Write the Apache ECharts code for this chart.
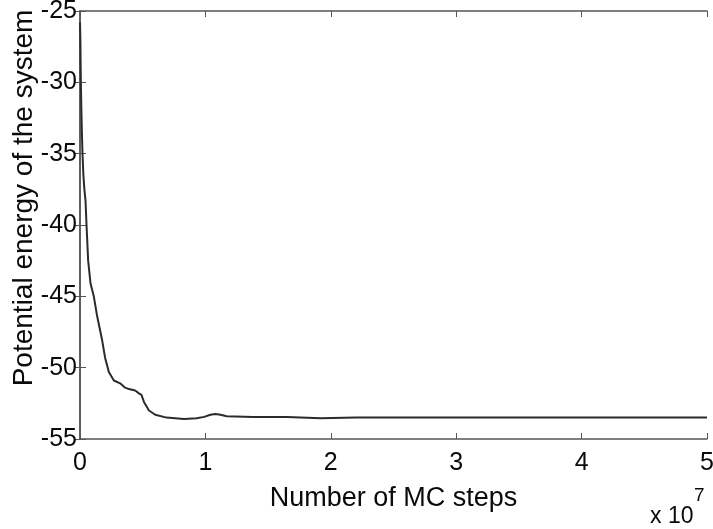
<!DOCTYPE html>
<html>
<head>
<meta charset="utf-8">
<script src="https://cdn.jsdelivr.net/npm/echarts@6/dist/echarts.min.js"></script>
<style>
  html, body { margin: 0; padding: 0; background: #fff; }
  #chart { width: 713px; height: 529px; }
</style>
</head>
<body>
<div id="chart"></div>
<script>
// MC steps in units of 1e7
const steps = [0, 0.003, 0.006, 0.01, 0.015, 0.02, 0.027, 0.035, 0.044, 0.052, 0.065, 0.084, 0.11, 0.137, 0.177, 0.2, 0.23, 0.27, 0.32, 0.36, 0.39, 0.44, 0.47, 0.49, 0.51, 0.55, 0.6, 0.69, 0.83, 0.93, 0.99, 1.04, 1.08, 1.12, 1.17, 1.38, 1.65, 1.92, 2.2, 2.5, 3, 3.5, 4, 4.5, 5]
const energy = [-25.8, -27, -29.5, -31.5, -33.5, -35, -36.5, -37.5, -38.3, -40, -42.5, -44.1, -45, -46.4, -48.1, -49.3, -50.3, -50.9, -51.1, -51.4, -51.5, -51.6, -51.8, -51.9, -52.4, -53.0, -53.3, -53.5, -53.6, -53.55, -53.45, -53.3, -53.25, -53.3, -53.4, -53.45, -53.45, -53.55, -53.5, -53.5, -53.5, -53.5, -53.5, -53.5, -53.5]
const xTicks = [0, 1, 2, 3, 4, 5]
const yTicks = [-55, -50, -45, -40, -35, -30, -25]

const font = 'Liberation Sans, Arial, sans-serif'
const axisColor = '#555'
const textColor = '#0a0a0a'

const chart = echarts.init(document.getElementById('chart'))

const baseAxis = {
  type: 'value',
  splitLine: { show: false },
  axisLine: { show: true, lineStyle: { color: axisColor, width: 1.5 } },
  axisTick: { show: true, inside: true, length: 6, lineStyle: { color: axisColor } }
}

chart.setOption({
  animation: false,
  backgroundColor: '#fff',
  grid: { left: 80, right: 6, top: 11, bottom: 90, outerBoundsMode: 'none' },
  xAxis: [
    {
      ...baseAxis,
      position: 'bottom',
      min: xTicks[0], max: xTicks[xTicks.length - 1], interval: 1,
      axisLabel: { color: textColor, fontFamily: font, fontSize: 25, margin: 12 },
      name: 'Number of MC steps',
      nameLocation: 'middle',
      nameGap: 46,
      nameMoveOverlap: false,
      nameTextStyle: { color: textColor, fontFamily: font, fontSize: 27 }
    },
    {
      ...baseAxis,
      position: 'top',
      min: xTicks[0], max: xTicks[xTicks.length - 1], interval: 1,
      axisLabel: { show: false }
    }
  ],
  yAxis: [
    {
      ...baseAxis,
      position: 'left',
      min: yTicks[0], max: yTicks[yTicks.length - 1], interval: 5,
      axisLabel: { color: textColor, fontFamily: font, fontSize: 25, margin: 3 },
      name: 'Potential energy of the system',
      nameLocation: 'middle',
      nameRotate: 90,
      nameGap: 42,
      nameMoveOverlap: false,
      nameTextStyle: { color: textColor, fontFamily: font, fontSize: 28, padding: [0, 0, 0, 54] }
    },
    {
      ...baseAxis,
      position: 'right',
      min: yTicks[0], max: yTicks[yTicks.length - 1], interval: 5,
      axisLabel: { show: false }
    }
  ],
  graphic: [
    { type: 'text', left: 650, top: 505, style: { text: 'x 10', font: '23px ' + font, fill: textColor } },
    { type: 'text', left: 694, top: 486, style: { text: '7', font: '19px ' + font, fill: textColor } }
  ],
  series: [
    {
      type: 'line',
      data: steps.map((s, i) => [s, energy[i]]),
      showSymbol: false,
      lineStyle: { color: '#2b2b2b', width: 2 }
    }
  ]
})
</script>
</body>
</html>
